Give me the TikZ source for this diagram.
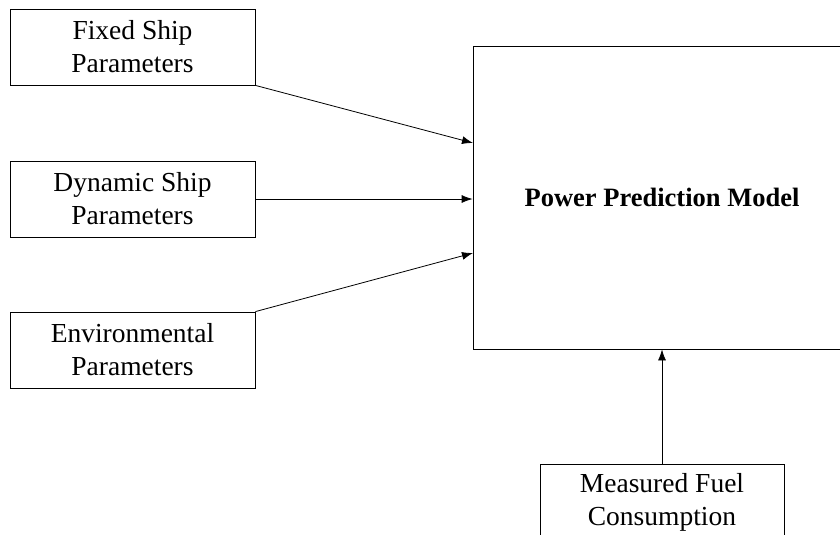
\documentclass[tikz,border=0pt]{standalone}
\usepackage{fontspec}
\setmainfont{Liberation Serif}
\usepackage{tikz}
\usetikzlibrary{arrows.meta}

\begin{document}
\begin{tikzpicture}[x=1pt,y=-1pt]

    \clip (0,0) rectangle (840,535);
    \tikzstyle{every node}=[draw,line width=0.8pt,inner sep=0pt,align=center,font=\fontsize{27.5}{33}\selectfont]
    \tikzstyle{inbox}=[minimum width=245pt,minimum height=76pt]
    \tikzstyle{feed}=[line width=0.8pt,-{Latex[length=11pt,width=8pt]}]

    \node[inbox](fixed) at (132.5,47){Fixed Ship\\Parameters};
    \node[inbox](dyn) at (132.5,199){Dynamic Ship\\Parameters};
    \node[inbox](env) at (132.5,350){Environmental\\Parameters};
    \node[minimum width=378pt,minimum height=303pt,font=\fontsize{26.5}{33}\selectfont\bfseries](model) at (662,197.5){Power Prediction Model};
    \node[minimum width=244pt,minimum height=76pt](fuel) at (662,502){Measured Fuel\\Consumption};

    \coordinate (in1) at (473,143);
    \coordinate (in3) at (473,253);

    % inputs
    \draw[feed](fixed.south east)--(in1);
    \draw[feed](dyn.east)--(dyn.east -| model.west);
    \draw[feed](env.north east)--(in3);
    \draw[feed](fuel.north)--(model.south);

\end{tikzpicture}
\end{document}
